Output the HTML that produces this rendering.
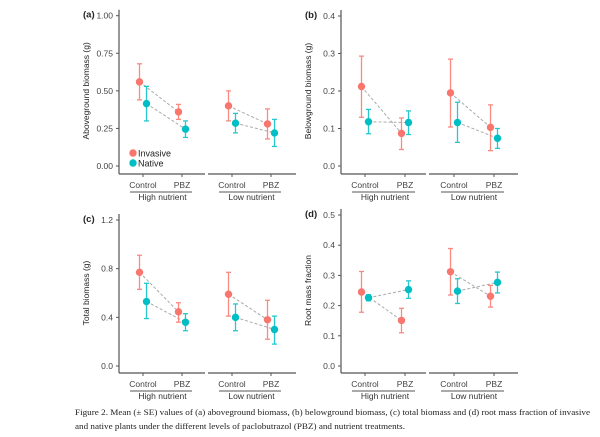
<!DOCTYPE html>
<html><head><meta charset="utf-8"><style>
body{margin:0;background:#fff;}
svg{display:block;font-family:"Liberation Sans",sans-serif;}
</style></head><body>
<svg id="s" width="600" height="437" viewBox="0 0 600 437" xmlns="http://www.w3.org/2000/svg"></svg>
<script>
const S=document.getElementById('s');let h='';
const R='#F8766D',T='#00BFC4';
function panel(o){
 const {ax,top,y0px,ymax,ticks,fmt,lab,title,facets,data,bottom}=o;
 const Y=v=>y0px-(v/ymax)*(y0px-top);
 h+=`<line x1="${ax}" y1="${top-6}" x2="${ax}" y2="${bottom}" stroke="#555" stroke-width="1.2"/>`;
 ticks.forEach(t=>{h+=`<line x1="${ax-3}" y1="${Y(t)}" x2="${ax}" y2="${Y(t)}" stroke="#555"/><text x="${ax-6}" y="${Y(t)+3}" font-size="8.5" fill="#444" text-anchor="end">${fmt(t)}</text>`;});
 h+=`<text x="${ax-36}" y="${top+2}" font-size="9.5" font-weight="bold" fill="#222">${lab}</text>`;
 const cy=(top+y0px)/2;
 h+=`<text transform="translate(${ax-30},${cy}) rotate(-90)" font-size="8.5" fill="#222" text-anchor="middle">${title}</text>`;
 facets.forEach((f,i)=>{
  h+=`<line x1="${f.x0}" y1="${bottom}" x2="${f.x1}" y2="${bottom}" stroke="#555" stroke-width="1.2"/>`;
  [f.c,f.p].forEach((x,j)=>{h+=`<line x1="${x}" y1="${bottom}" x2="${x}" y2="${bottom+3}" stroke="#555"/><text x="${x}" y="${bottom+14}" font-size="8.5" fill="#444" text-anchor="middle">${j?'PBZ':'Control'}</text>`;});
  h+=`<line x1="${f.c-13}" y1="${bottom+18}" x2="${f.p+10}" y2="${bottom+18}" stroke="#777" stroke-width="1.3"/>`;
  h+=`<text x="${(f.c+f.p)/2}" y="${bottom+26}" font-size="8.5" fill="#333" text-anchor="middle">${i?'Low nutrient':'High nutrient'}</text>`;
  const d=data[i];
  [[0,R,-3.5],[1,T,3.5]].forEach(([k,col,off])=>{
   const a=d[k][0],b=d[k][1];
   h+=`<line x1="${f.c+off}" y1="${Y(a[0])}" x2="${f.p+off}" y2="${Y(b[0])}" stroke="#aaa" stroke-dasharray="3,2" stroke-width="1"/>`;
  });
  [[0,R,-3.5],[1,T,3.5]].forEach(([k,col,off])=>{
   [[f.c,d[k][0]],[f.p,d[k][1]]].forEach(([x,v])=>{
    x+=off;
    h+=`<g stroke="${col}" stroke-width="1.3" opacity="0.85"><line x1="${x}" y1="${Y(v[1])}" x2="${x}" y2="${Y(v[2])}"/><line x1="${x-2.5}" y1="${Y(v[1])}" x2="${x+2.5}" y2="${Y(v[1])}"/><line x1="${x-2.5}" y1="${Y(v[2])}" x2="${x+2.5}" y2="${Y(v[2])}"/></g><circle cx="${x}" cy="${Y(v[0])}" r="3.7" fill="${col}"/>`;
   });
  });
 });
}
const FL=[{x0:119,x1:205,c:143,p:182},{x0:208,x1:296,c:232,p:271}];
const FR=[{x0:341,x1:426,c:365,p:405},{x0:429,x1:518,c:454,p:494}];
panel({ax:119,top:15.7,y0px:166,ymax:1,ticks:[0,.25,.5,.75,1],fmt:t=>t.toFixed(2),lab:'(a)',title:'Aboveground biomass (g)',facets:FL,bottom:174,
 data:[[[[.56,.44,.68],[.36,.31,.41]],[[.415,.30,.53],[.245,.19,.30]]],[[[.40,.30,.50],[.28,.18,.38]],[[.285,.22,.35],[.22,.13,.31]]]]});
panel({ax:341,top:16,y0px:166,ymax:.4,ticks:[0,.1,.2,.3,.4],fmt:t=>t.toFixed(1),lab:'(b)',title:'Belowground biomass (g)',facets:FR,bottom:174,
 data:[[[[.212,.13,.293],[.087,.044,.128]],[[.118,.086,.151],[.116,.084,.147]]],[[[.195,.104,.285],[.103,.041,.163]],[[.116,.063,.17],[.074,.047,.1]]]]});
panel({ax:119,top:220,y0px:366,ymax:1.2,ticks:[0,.4,.8,1.2],fmt:t=>t.toFixed(1),lab:'(c)',title:'Total biomass (g)',facets:FL,bottom:373,
 data:[[[[.77,.63,.91],[.445,.36,.52]],[[.53,.39,.68],[.36,.29,.43]]],[[[.59,.41,.77],[.38,.22,.54]],[[.40,.29,.51],[.30,.18,.41]]]]});
panel({ax:341,top:215,y0px:366,ymax:.5,ticks:[0,.1,.2,.3,.4,.5],fmt:t=>t.toFixed(1),lab:'(d)',title:'Root mass fraction',facets:FR,bottom:373,
 data:[[[[.245,.178,.313],[.151,.11,.191]],[[.226,.216,.236],[.253,.224,.282]]],[[[.312,.235,.389],[.231,.195,.267]],[[.248,.207,.289],[.277,.242,.311]]]]});
h+=`<circle cx="133" cy="153" r="3.7" fill="${R}"/><text x="138" y="156.5" font-size="9" fill="#222">Invasive</text>`;
h+=`<circle cx="133" cy="163" r="3.7" fill="${T}"/><text x="138" y="166.5" font-size="9" fill="#222">Native</text>`;
h+=`<text x="75" y="415" font-family="Liberation Serif,serif" font-size="8.8" fill="#222" textLength="515" lengthAdjust="spacingAndGlyphs">Figure 2. Mean (± SE) values of (a) aboveground biomass, (b) belowground biomass, (c) total biomass and (d) root mass fraction of invasive</text>`;
h+=`<text x="75" y="429" font-family="Liberation Serif,serif" font-size="8.8" fill="#222" textLength="330" lengthAdjust="spacingAndGlyphs">and native plants under the different levels of paclobutrazol (PBZ) and nutrient treatments.</text>`;
S.innerHTML=h;
</script>
</body></html>
